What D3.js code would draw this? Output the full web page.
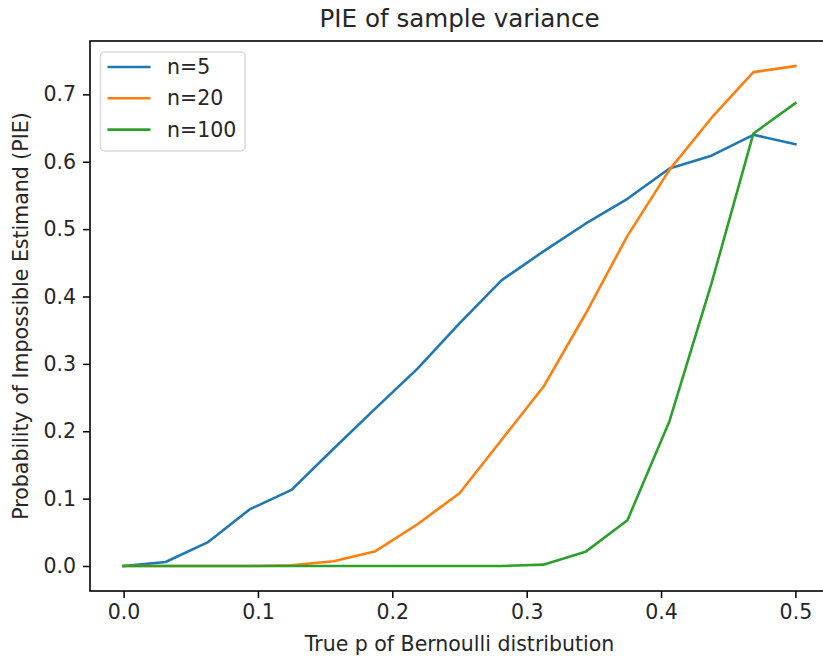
<!DOCTYPE html>
<html>
<head>
<meta charset="utf-8">
<script src="https://cdn.jsdelivr.net/npm/d3@7"></script>
<style>
  body { margin: 0; background: #fff; }
  svg { display: block; }
</style>
</head>
<body>
<svg id="chart" width="823" height="659"></svg>
<script>
// data
const pValues = [0, 0.03125, 0.0625, 0.09375, 0.125, 0.15625, 0.1875, 0.21875, 0.25,
                 0.28125, 0.3125, 0.34375, 0.375, 0.40625, 0.4375, 0.46875, 0.5]
const pieN5 = [0, 0.006, 0.035, 0.084, 0.113, 0.174, 0.234, 0.293, 0.36,
               0.424, 0.467, 0.508, 0.545, 0.59, 0.609, 0.64, 0.626]
const pieN20 = [0, 0, 0, 0, 0.001, 0.007, 0.022, 0.062, 0.108,
                0.187, 0.266, 0.374, 0.49, 0.588, 0.665, 0.733, 0.742]
const pieN100 = [0, 0, 0, 0, 0, 0, 0, 0, 0,
                 0, 0.002, 0.021, 0.068, 0.215, 0.419, 0.642, 0.687]
const seriesNames = ["n=5", "n=20", "n=100"]
const seriesColors = ["#1f77b4", "#ff7f0e", "#2ca02c"]
const xTicks = [0, 0.1, 0.2, 0.3, 0.4, 0.5]
const yTicks = [0, 0.1, 0.2, 0.3, 0.4, 0.5, 0.6, 0.7]

let svg = d3.select("#chart")
let plotLeft = 90, plotTop = 41, plotRight = 829, plotBottom = 591
let font = "DejaVu Sans, sans-serif"
let textColor = "#262626"
let labelSize = "20.5px"

let x = d3.scaleLinear().domain([-0.025, 0.525]).range([plotLeft, plotRight])
let y = d3.scaleLinear().domain([-0.0371, 0.7792]).range([plotBottom, plotTop])

let allSeries = [pieN5, pieN20, pieN100]

// lines
let line = d3.line()
    .x(function (d, i) { return x(pValues[i]) })
    .y(function (d) { return y(d) })

svg.selectAll(".series")
    .data(allSeries)
    .enter()
    .append("path")
    .attr("class", "series")
    .attr("d", function (d) { return line(d) })
    .style("fill", "none")
    .style("stroke", function (d, i) { return seriesColors[i] })
    .style("stroke-width", 2.6)
    .style("stroke-linejoin", "round")
    .style("stroke-linecap", "square")

// axes
svg.append("g")
    .attr("transform", "translate(0," + plotBottom + ")")
    .call(d3.axisBottom(x).tickValues(xTicks).tickFormat(d3.format(".1f")).tickSize(7).tickPadding(6))
svg.append("g")
    .attr("transform", "translate(" + plotLeft + ",0)")
    .call(d3.axisLeft(y).tickValues(yTicks).tickFormat(d3.format(".1f")).tickSize(7).tickPadding(7))

svg.selectAll(".domain").remove()
svg.selectAll(".tick line").style("stroke", "#000").style("stroke-width", 1.5)
svg.selectAll(".tick text")
    .style("font-family", font)
    .style("font-size", labelSize)
    .style("fill", textColor)

// frame
svg.append("rect")
    .attr("x", plotLeft)
    .attr("y", plotTop)
    .attr("width", plotRight - plotLeft)
    .attr("height", plotBottom - plotTop)
    .style("fill", "none")
    .style("stroke", "#000")
    .style("stroke-width", 1.6)

// title and labels
svg.append("text")
    .text("PIE of sample variance")
    .attr("x", (plotLeft + plotRight) / 2)
    .attr("y", 27)
    .attr("text-anchor", "middle")
    .style("font-family", font)
    .style("font-size", "24.6px")
    .style("fill", textColor)

svg.append("text")
    .text("True p of Bernoulli distribution")
    .attr("x", (plotLeft + plotRight) / 2)
    .attr("y", 651)
    .attr("text-anchor", "middle")
    .style("font-family", font)
    .style("font-size", labelSize)
    .style("fill", textColor)

svg.append("text")
    .text("Probability of Impossible Estimand (PIE)")
    .attr("transform", "translate(21," + ((plotTop + plotBottom) / 2) + ") rotate(-90)")
    .attr("dy", "0.35em")
    .attr("text-anchor", "middle")
    .style("font-family", font)
    .style("font-size", labelSize)
    .style("fill", textColor)

// legend
let legend = svg.append("g").attr("transform", "translate(100.5,52)")
legend.append("rect")
    .attr("width", 144.5)
    .attr("height", 99)
    .attr("rx", 4)
    .attr("ry", 4)
    .style("fill", "#fff")
    .style("fill-opacity", 0.8)
    .style("stroke", "#d9d9d9")
    .style("stroke-width", 1.5)

let items = legend.selectAll(".legendItem")
    .data(seriesNames)
    .enter()
    .append("g")
    .attr("class", "legendItem")
    .attr("transform", function (d, i) { return "translate(0," + (15 + i * 31.3) + ")" })
items.append("line")
    .attr("x1", 7)
    .attr("x2", 50)
    .style("stroke", function (d, i) { return seriesColors[i] })
    .style("stroke-width", 2.6)
items.append("text")
    .text(function (d) { return d })
    .attr("x", 66.5)
    .attr("dy", "0.35em")
    .style("font-family", font)
    .style("font-size", labelSize)
    .style("fill", textColor)
</script>
</body>
</html>
